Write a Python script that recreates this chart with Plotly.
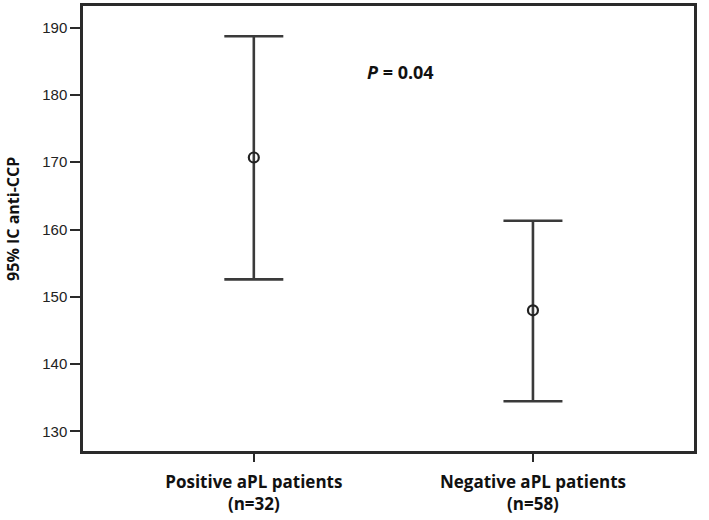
import plotly.graph_objects as go

groups = ["Positive aPL patients<br>(n=32)", "Negative aPL patients<br>(n=58)"]
means = [170.7, 148.0]
upper = [188.7, 161.3]
lower = [152.6, 134.5]
y_ticks = [130, 140, 150, 160, 170, 180, 190]
y_title = "95% IC anti-CCP"
p_text = "<i>P</i> = 0.04"

xpos = list(range(len(groups)))
err_plus = [u - m for u, m in zip(upper, means)]
err_minus = [m - l for m, l in zip(means, lower)]

LINE = "#3a3a3a"

fig = go.Figure()
fig.add_trace(go.Scatter(
    x=xpos, y=means, mode="markers",
    marker=dict(symbol="circle-open", size=10, color="#222", line=dict(width=2.2, color="#222")),
    error_y=dict(type="data", symmetric=False, array=err_plus, arrayminus=err_minus,
                 color=LINE, thickness=2.6, width=29.5),
    showlegend=False, hoverinfo="skip",
))

fig.add_annotation(x=0.525, y=183.4, xref="x", yref="y", text="<b>" + p_text + "</b>",
                   showarrow=False, font=dict(family="Open Sans", size=18, color="#111"))

fig.add_annotation(x=-0.115, y=0.521, xref="paper", yref="paper", text="<b>" + y_title + "</b>",
                   textangle=-90, showarrow=False, xanchor="center", yanchor="middle",
                   font=dict(family="Open Sans", size=16, color="#111"))

fig.update_layout(
    width=709, height=520,
    margin=dict(l=83, r=15, t=6, b=69, autoexpand=False),
    paper_bgcolor="white", plot_bgcolor="white",
    xaxis=dict(range=[-0.612, 1.577], tickvals=xpos, ticktext=["<b>" + g + "</b>" for g in groups],
               showgrid=False, zeroline=False, showline=True, mirror=True,
               linecolor="#2a2a2a", linewidth=2.5, ticks="outside", ticklen=8, tickwidth=2,
               tickcolor="#2a2a2a", ticklabelstandoff=6,
               tickfont=dict(family="Open Sans", size=17, color="#111")),
    yaxis=dict(range=[127.1, 193.2], tickvals=y_ticks, showgrid=False, zeroline=False,
               showline=True, mirror=True, linecolor="#2a2a2a", linewidth=2.5,
               ticks="outside", ticklen=10, tickwidth=2, tickcolor="#2a2a2a",
               tickfont=dict(family="Liberation Sans", size=15, color="#222")),
)

fig.write_html("out.html", config={"displayModeBar": False},
               post_script="document.body.style.margin='0';")
